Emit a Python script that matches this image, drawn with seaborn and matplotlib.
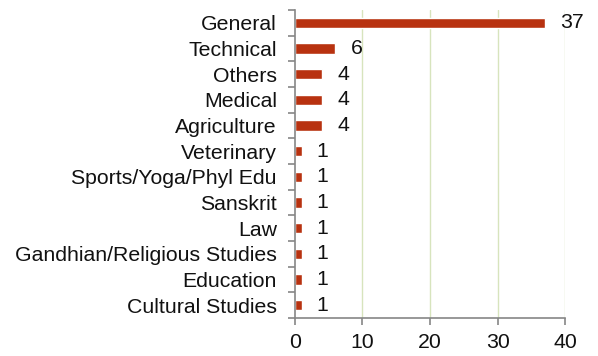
import numpy as np
import pandas as pd
import seaborn as sns
import matplotlib.pyplot as plt

categories = ["General", "Technical", "Others", "Medical", "Agriculture", "Veterinary",
              "Sports/Yoga/Phyl Edu", "Sanskrit", "Law", "Gandhian/Religious Studies",
              "Education", "Cultural Studies"]
counts = [37, 6, 4, 4, 4, 1, 1, 1, 1, 1, 1, 1]
x_ticks = [0, 10, 20, 30, 40]

sns.set_style("white")
plt.rcParams["font.family"] = ["Liberation Sans", "DejaVu Sans"]
FS = 15.3

df = pd.DataFrame({"category": categories, "count": counts})

fig = plt.figure(figsize=(5.98, 3.56), dpi=100)
ax = fig.add_axes([0.493, 0.107, 0.452, 0.865])

sns.barplot(data=df, x="count", y="category", color="#B83210", width=0.4,
            saturation=1, ax=ax)

ax.set_xlim(0, 40)
ax.set_ylim(len(categories) - 0.5, -0.5)
ax.set_xticks(x_ticks)
ax.set_xlabel("")
ax.set_ylabel("")

# light green vertical grid
for t in x_ticks[1:]:
    ax.axvline(t, color="#D7E4BD", lw=1, zorder=0)

for s in ["top", "right"]:
    ax.spines[s].set_visible(False)
for s in ["left", "bottom"]:
    ax.spines[s].set_color("#868686")
    ax.spines[s].set_linewidth(1.2)

# category ticks between bars
ax.set_yticks(np.arange(-0.5, len(categories), 1), minor=True)
ax.tick_params(axis="y", which="major", length=0, pad=13, labelsize=FS, labelcolor="#111111")
ax.tick_params(axis="y", which="minor", length=5, color="#868686", width=1.2, direction="out", left=True)
ax.tick_params(axis="x", which="major", length=5, color="#868686", width=1.2, direction="out",
               bottom=True, labelsize=FS, labelcolor="#111111", pad=6)

for c in ax.containers:
    ax.bar_label(c, labels=[str(v) for v in counts], padding=11, fontsize=FS, color="#111111")

plt.savefig("out.png", dpi=100)
